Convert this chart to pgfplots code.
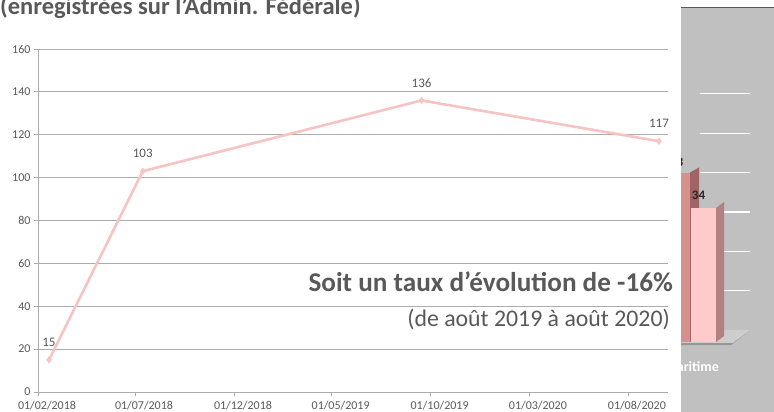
\documentclass[border=0pt]{standalone}
\usepackage{fontspec}
\setmainfont{Carlito}
\usepackage{pgfplots}
\pgfplotsset{compat=1.18}
\definecolor{txt}{RGB}{89,89,89}
\definecolor{gridc}{RGB}{172,172,172}
\definecolor{linec}{RGB}{246,196,196}
\definecolor{panel}{RGB}{192,192,192}
\definecolor{darkfront}{RGB}{214,144,144}
\definecolor{darkside}{RGB}{160,100,100}
\definecolor{pinkfront}{RGB}{255,202,202}
\definecolor{pinkside}{RGB}{178,128,128}
\definecolor{floorc}{RGB}{150,150,150}
\definecolor{floortop}{RGB}{205,205,205}
\begin{document}
\begin{tikzpicture}[x=1pt,y=1pt]
\useasboundingbox (0,0) rectangle (774,412);
\fill[white] (0,0) rectangle (774,412);
% ---- partly hidden 3D bar chart on the right ----
\begin{axis}[
  scale only axis, width=93pt, height=404pt,
  at={(681pt,0pt)}, anchor=south west,
  xmin=681, xmax=774, ymin=-17.77, ymax=84.77,
  axis lines=none, clip=false,
  axis background/.style={fill=panel},
]
\foreach \g in {13,23,33,43,53,63}{
  \edef\tmp{\noexpand\draw[white, line width=1.2pt] (axis cs:700,\g) -- (axis cs:750,\g);}\tmp
}
\addplot[fill=floorc, draw=none] coordinates {(681,-0.8) (731,-0.8) (750,3) (681,3)} -- cycle;
\addplot[fill=floortop, draw=none] coordinates {(681,-0.2) (733,-0.2) (750,3) (681,3)} -- cycle;
% dark bar
\addplot[fill=darkside, draw=none] coordinates {(690,0) (699,1.3) (699,44.3) (690,43)} -- cycle;
\addplot[ybar, bar shift=0pt, bar width=25, fill=darkfront, draw=none,
  nodes near coords, every node near coord/.append style={font=\bfseries\fontsize{13}{13}\selectfont, text=black!85, anchor=south, inner sep=0pt, yshift=6pt, xshift=-1pt},
  /pgf/number format/assume math mode=true] coordinates {(677.5,43)};
% pink bar
\addplot[fill=pinkside, draw=none] coordinates {(716,0) (724,1.5) (724,35.5) (716,34)} -- cycle;
\addplot[ybar, bar shift=0pt, bar width=25, fill=pinkfront, draw=none,
  nodes near coords, every node near coord/.append style={font=\bfseries\fontsize{13}{13}\selectfont, text=black!85, anchor=south, inner sep=0pt, yshift=8pt, xshift=-5pt},
  /pgf/number format/assume math mode=true] coordinates {(703.5,34)};
\node[anchor=base east, text=white, font=\bfseries\fontsize{14}{14}\selectfont, inner sep=0pt] at (axis cs:719,-7.6) {Maritime};
\end{axis}
\draw[gray!70!black, line width=1pt] (681,404) -- (774,404);
% ---- white screenshot panel ----
\fill[white] (0,0) rectangle (681,412);
% ---- main line chart ----
\begin{axis}[
  scale only axis, width=630pt, height=343pt,
  at={(38pt,20pt)}, anchor=south west,
  xmin=0, xmax=974, ymin=0, ymax=160,
  axis lines*=left,
  axis line style={draw=gridc, line width=0.8pt, -},
  xtick={0,150,303,454,607,759,912},
  xticklabels={01/02/2018,01/07/2018,01/12/2018,01/05/2019,01/10/2019,01/03/2020,01/08/2020},
  ytick={0,20,...,160},
  ymajorgrids, grid style={draw=gridc, line width=0.8pt},
  tick align=outside, major tick length=4pt,
  tick style={draw=gridc, line width=0.8pt},
  ticklabel style={font=\fontsize{12}{12}\selectfont, text=txt},
  xticklabel style={yshift=-2pt, xshift=9pt},
  /pgf/number format/assume math mode=true,
  clip=false,
]
\addplot[color=linec, line width=2.6pt, line join=round, mark=diamond*, mark size=3.2pt,
  mark options={fill=linec, draw=linec, line width=0.5pt},
  nodes near coords,
  every node near coord/.append style={font=\fontsize{13}{13}\selectfont, text=txt, anchor=south, inner sep=0pt, yshift=13pt}]
  coordinates {(17,15) (162,103) (593,136) (960,117)};
\end{axis}
% ---- texts ----
\node[anchor=base west, inner sep=0pt, text=txt, font=\bfseries\fontsize{24.5}{24.5}\selectfont] at (0,397) {(enregistrées sur l’Admin. Fédérale)};
\node[anchor=base east, inner sep=0pt, text=txt, font=\bfseries\fontsize{27.2}{27.2}\selectfont] at (673,120) {Soit un taux d’évolution de -16\%};
\node[anchor=base east, inner sep=0pt, text=txt, font=\fontsize{23.8}{23.8}\selectfont] at (670,85) {(de août 2019 à août 2020)};
\end{tikzpicture}
\end{document}
